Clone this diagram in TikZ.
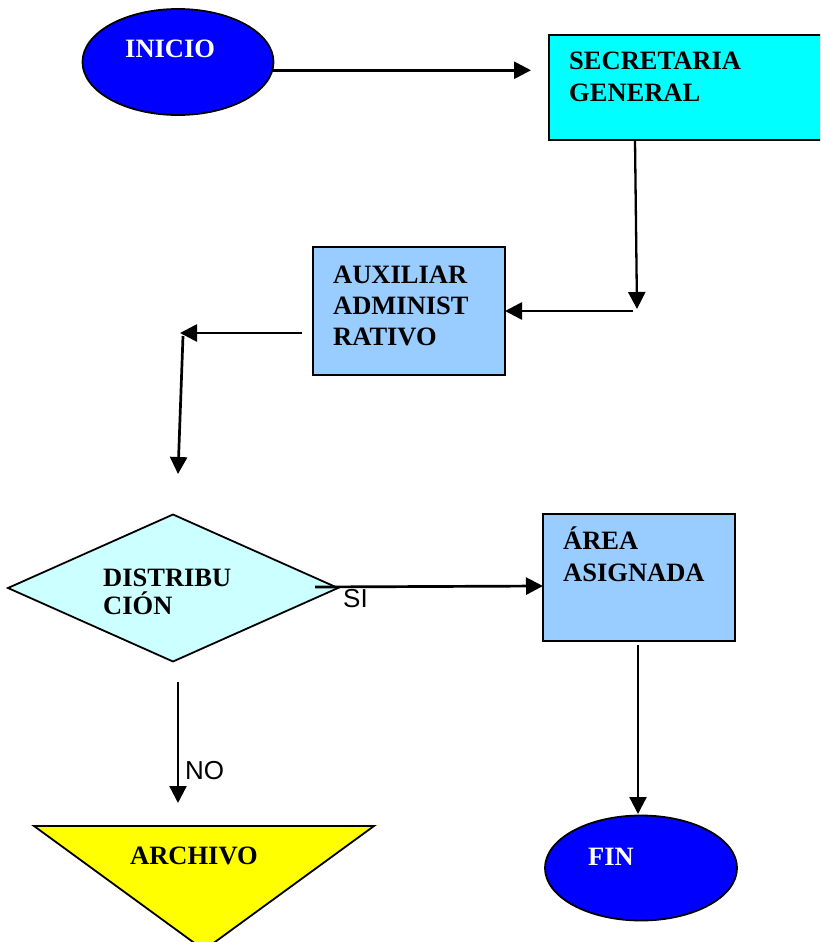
\documentclass[tikz,border=0pt]{standalone}
\usepackage{fontspec}
\setmainfont{Liberation Serif}
\newfontfamily\labelsans{Liberation Sans}
\usetikzlibrary{shapes.geometric,arrows.meta}
\definecolor{cyanbox}{HTML}{00FFFF}
\definecolor{bluebox}{HTML}{99CCFF}
\definecolor{diamfill}{HTML}{CCFFFF}
\definecolor{ovalblue}{HTML}{0000FF}
\definecolor{yelfill}{HTML}{FFFF00}
\begin{document}
\begin{tikzpicture}[x=1pt,y=-1pt,
  shapebox/.style={draw=black,line width=1.8pt,inner sep=0pt,outer sep=0pt},
  oval/.style={shapebox,ellipse,fill=ovalblue},
  rectbox/.style={shapebox,rectangle,anchor=north west},
  lbl/.style={anchor=base west,inner sep=0pt,font=\bfseries\fontsize{26.5}{31}\selectfont,align=left},
  wlbl/.style={lbl,text=white},
  edgelbl/.style={anchor=base west,inner sep=0pt,font=\labelsans\fontsize{26}{30}\selectfont},
  arr/.style={line width=2.7pt,-{Triangle[length=17pt 0,width=17pt 0]}},
  thinarr/.style={arr,line width=2.3pt}]
\useasboundingbox (0,0) rectangle (820,942);
\begin{scope}
\clip (0,0) rectangle (820,942);

% shapes
\node[oval,minimum width=191pt,minimum height=106pt] (inicio) at (178,62) {};
\node[rectbox,fill=cyanbox,minimum width=275pt,minimum height=105pt] (secretaria) at (549,35) {};
\node[rectbox,fill=bluebox,minimum width=192pt,minimum height=128pt] (auxiliar) at (313,247) {};
\node[shapebox,diamond,fill=diamfill,minimum width=330pt,minimum height=147pt,shape aspect=2.245] (distrib) at (173,588) {};
\node[rectbox,fill=bluebox,minimum width=192pt,minimum height=127pt] (area) at (543,514) {};
\node[oval,minimum width=192pt,minimum height=105pt] (fin) at (641,868) {};
\filldraw[fill=yelfill,draw=black,line width=1.8pt] (34,826) -- (374,826) -- (204,950) -- cycle;
\coordinate (archivo) at (204,826);

% texts
\node[wlbl] (tinicio) at (125,58) {INICIO};
\node[lbl] (tsec1) at (569,70) {SECRETARIA};
\node[lbl] (tsec2) at (569,101) {GENERAL};
\node[lbl] (taux1) at (333,283) {AUXILIAR};
\node[lbl] (taux2) at (333,314) {ADMINIST};
\node[lbl] (taux3) at (333,345) {RATIVO};
\node[lbl] (tdis1) at (103,586) {DISTRIBU};
\node[lbl] (tdis2) at (103,614) {CIÓN};
\node[lbl] (tarea1) at (563,549) {ÁREA};
\node[lbl] (tarea2) at (563,581) {ASIGNADA};
\node[lbl] (tarch) at (130,864) {ARCHIVO};
\node[wlbl] (tfin) at (588,865) {FIN};

% connector points
\coordinate (p1e) at (531,71);
\coordinate (p2s) at (635,140);
\coordinate (p2e) at (637,309);
\coordinate (p3s) at (633,311);
\coordinate (p4s) at (302,333);
\coordinate (p4e) at (180,333);
\coordinate (p5s) at (183,336);
\coordinate (p5e) at (178,474);
\coordinate (p6s) at (315,587);
\coordinate (p6e) at (543,586);
\coordinate (p7s) at (638,645);
\coordinate (p7e) at (638,814);
\coordinate (p8s) at (178,682);
\coordinate (p8e) at (178,803);

% connectors
\draw[arr] (inicio.-5) -- (inicio.-5 -| p1e);
\draw[thinarr] (p2s) -- (p2e);
\draw[arr] (p3s) -- (p3s -| auxiliar.east);
\draw[arr] (p4s) -- (p4e);
\draw[arr] (p5s) -- (p5e);
\draw[arr] (p6s) -- (p6e);
\draw[thinarr] (p7s) -- (p7e);
\draw[thinarr] (p8s) -- (p8e);

% edge labels
\node[edgelbl] (lsi) at (343,607) {SI};
\node[edgelbl] (lno) at (185,779) {NO};
\end{scope}
\end{tikzpicture}
\end{document}
